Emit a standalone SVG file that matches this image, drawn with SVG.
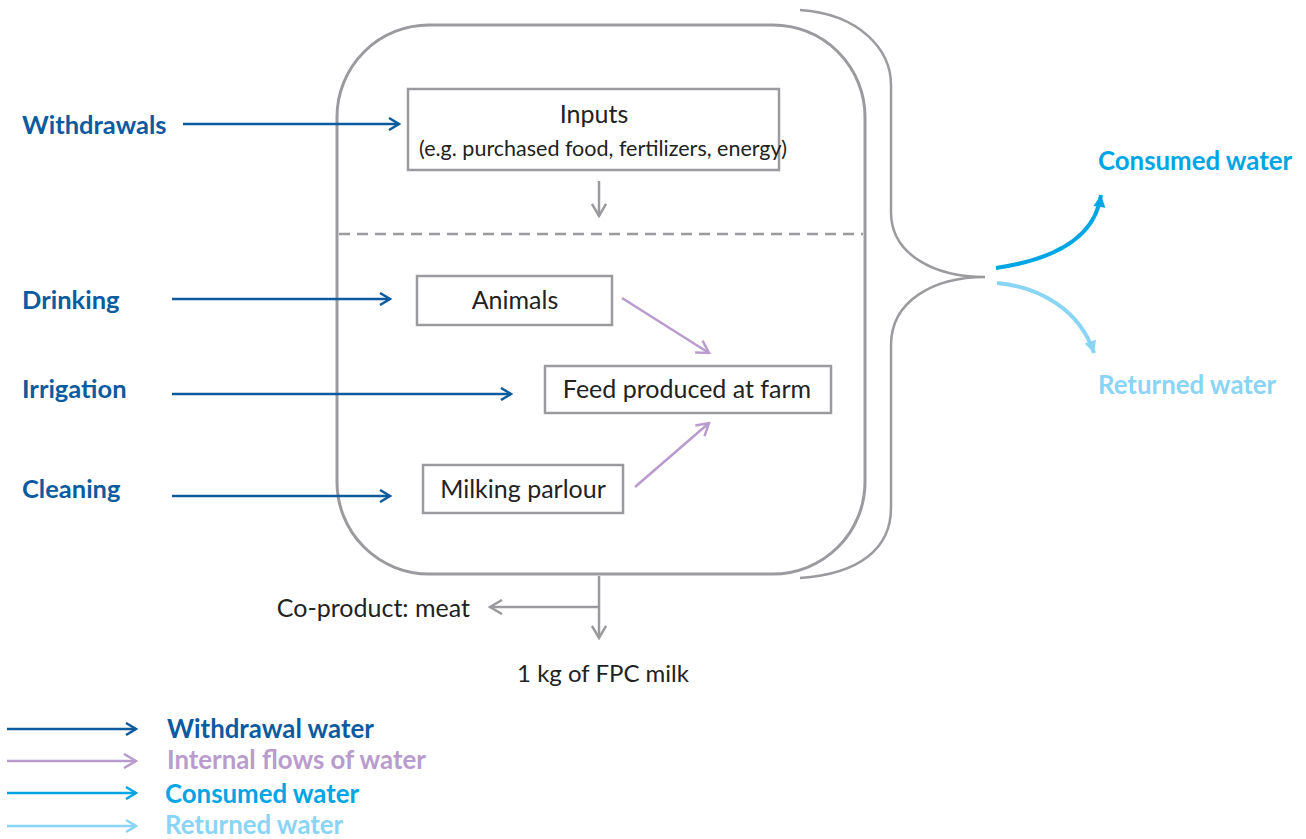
<svg xmlns="http://www.w3.org/2000/svg" width="1306" height="839" viewBox="0 0 1306 839">
<defs>
<style>
.t{font-family:Lato,"Open Sans","Liberation Sans",sans-serif;}
.lbl{font-size:25px;fill:#222;}
.side{font-size:25.5px;font-weight:bold;fill:#0d5b9f;}
.box{fill:#fff;stroke:#9b9b9f;stroke-width:2.5;}
.wd{stroke:#0d5b9f;stroke-width:2.5;fill:none;}
.in{stroke:#b99ccd;stroke-width:2.5;fill:none;}
.gr{stroke:#9b9b9f;stroke-width:2.5;fill:none;}
.co{stroke:#00a5e3;stroke-width:4;fill:none;}
.re{stroke:#8ad4f5;stroke-width:4;fill:none;}
.lg{font-size:25.8px;font-weight:bold;}
</style>
<marker id="mwd" viewBox="0 0 14 14" refX="12" refY="7" markerWidth="14" markerHeight="14" markerUnits="userSpaceOnUse" orient="auto"><path d="M2 1 L12 7 L2 13" fill="none" stroke="#0d5b9f" stroke-width="2.5"/></marker>
<marker id="min" viewBox="0 0 16 16" refX="14" refY="8" markerWidth="16" markerHeight="16" markerUnits="userSpaceOnUse" orient="auto"><path d="M2 1 L14 8 L2 15" fill="none" stroke="#b99ccd" stroke-width="2.5"/></marker>
<marker id="mgr" viewBox="0 0 16 16" refX="14" refY="8" markerWidth="16" markerHeight="16" markerUnits="userSpaceOnUse" orient="auto"><path d="M2 1 L14 8 L2 15" fill="none" stroke="#9b9b9f" stroke-width="2.5"/></marker>
<marker id="mco" viewBox="0 0 14 14" refX="13" refY="7" markerWidth="14" markerHeight="14" markerUnits="userSpaceOnUse" orient="auto"><path d="M1 1 L13 7 L1 13 Z" fill="#00a5e3"/></marker>
<marker id="mre" viewBox="0 0 14 14" refX="13" refY="7" markerWidth="14" markerHeight="14" markerUnits="userSpaceOnUse" orient="auto"><path d="M1 1 L13 7 L1 13 Z" fill="#8ad4f5"/></marker>
<marker id="lco" viewBox="0 0 14 14" refX="12" refY="7" markerWidth="14" markerHeight="14" markerUnits="userSpaceOnUse" orient="auto"><path d="M2 1 L12 7 L2 13" fill="none" stroke="#00a5e3" stroke-width="2.5"/></marker>
<marker id="lre" viewBox="0 0 14 14" refX="12" refY="7" markerWidth="14" markerHeight="14" markerUnits="userSpaceOnUse" orient="auto"><path d="M2 1 L12 7 L2 13" fill="none" stroke="#8ad4f5" stroke-width="2.5"/></marker>
</defs>
<rect width="1306" height="839" fill="#fff"/>

<g id="farm">
<rect x="337" y="25" width="528" height="549" rx="92" ry="92" fill="none" stroke="#9b9b9f" stroke-width="3"/>
<line x1="339" y1="234" x2="863" y2="234" stroke="#9b9b9f" stroke-width="2.5" stroke-dasharray="11,7"/>
</g>

<g id="brace">
<path d="M800 10 C860 14 891 50 891 85 L891 212 C891 255 935 277 985 277 C935 277 891 300 891 345 L891 508 C891 548 860 574 800 578" class="gr"/>
</g>

<g id="inputs">
<rect class="box" x="408" y="89" width="371" height="81"/>
<text class="t lbl" x="594" y="123" text-anchor="middle">Inputs</text>
<text class="t" x="603" y="156" text-anchor="middle" font-size="21.5" fill="#222">(e.g. purchased food, fertilizers, energy)</text>
</g>
<g id="animals">
<rect class="box" x="417" y="276" width="195" height="49"/>
<text class="t lbl" x="515" y="309" text-anchor="middle">Animals</text>
</g>
<g id="feed">
<rect class="box" x="545" y="366" width="286" height="47"/>
<text class="t lbl" x="687" y="398" text-anchor="middle">Feed produced at farm</text>
</g>
<g id="milking">
<rect class="box" x="423" y="465" width="200" height="48"/>
<text class="t lbl" x="523" y="498" text-anchor="middle">Milking parlour</text>
</g>

<g id="labels">
<text class="t side" x="22" y="134">Withdrawals</text>
<text class="t side" x="22" y="309">Drinking</text>
<text class="t side" x="22" y="398">Irrigation</text>
<text class="t side" x="22" y="498">Cleaning</text>
<text class="t lg" x="1098" y="170" fill="#00a5e3">Consumed water</text>
<text class="t lg" x="1098" y="394" fill="#8ad4f5">Returned water</text>
<text class="t lbl" x="470" y="617" text-anchor="end">Co-product: meat</text>
<text class="t" x="603" y="682" text-anchor="middle" font-size="24" fill="#222">1 kg of FPC milk</text>
</g>

<g id="connectors">
<line class="wd" x1="183" y1="124" x2="399" y2="124" marker-end="url(#mwd)"/>
<line class="wd" x1="172" y1="299" x2="390" y2="299" marker-end="url(#mwd)"/>
<line class="wd" x1="172" y1="394" x2="511" y2="394" marker-end="url(#mwd)"/>
<line class="wd" x1="172" y1="496" x2="390" y2="496" marker-end="url(#mwd)"/>
<line class="in" x1="622" y1="298" x2="709" y2="353" marker-end="url(#min)"/>
<line class="in" x1="635" y1="487" x2="709" y2="423" marker-end="url(#min)"/>
<line class="gr" x1="599" y1="181" x2="599" y2="216" marker-end="url(#mgr)"/>
<line class="gr" x1="599" y1="576" x2="599" y2="638" marker-end="url(#mgr)"/>
<line class="gr" x1="599" y1="607" x2="490" y2="607" marker-end="url(#mgr)"/>
<path class="co" d="M996 268 C1050 260 1095 240 1101 195" marker-end="url(#mco)"/>
<path class="re" d="M997 283 C1040 287 1080 310 1094 353" marker-end="url(#mre)"/>
</g>

<g id="legend">
<line class="wd" x1="7" y1="729" x2="136" y2="729" marker-end="url(#mwd)"/>
<line class="in" x1="7" y1="761" x2="136" y2="761" marker-end="url(#min)"/>
<line stroke="#00a5e3" stroke-width="2.5" x1="7" y1="793" x2="136" y2="793" marker-end="url(#lco)"/>
<line stroke="#8ad4f5" stroke-width="2.5" x1="7" y1="826" x2="136" y2="826" marker-end="url(#lre)"/>
<text class="t lg" x="167" y="738" fill="#0d5b9f">Withdrawal water</text>
<text class="t lg" x="167" y="769" fill="#b99ccd">Internal flows of water</text>
<text class="t lg" x="165" y="803" fill="#00a5e3">Consumed water</text>
<text class="t lg" x="165" y="834" fill="#8ad4f5">Returned water</text>
</g>
</svg>
